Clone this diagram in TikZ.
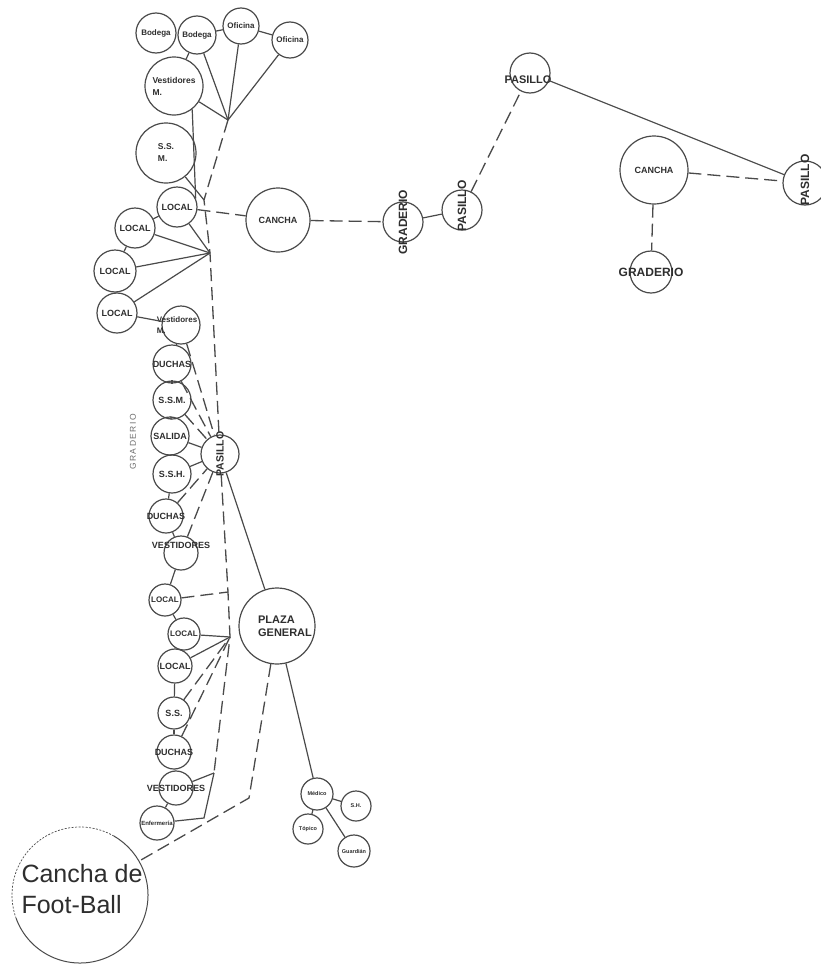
\documentclass[tikz,border=0pt]{standalone}
\usepackage{fontspec}
\setmainfont{Liberation Sans}
\definecolor{lc}{HTML}{4A4A4A}
\definecolor{tc}{HTML}{2E2E2E}
\newcommand\fz[1]{\fontsize{#1}{#1}\selectfont}
\newcommand\cnode[5]{%
  \node[nd, minimum size=#3pt] (#1) at (#2) {};
  \node[tx, #5] (#1-t) at (#1.center) {#4};}
\begin{document}
\begin{tikzpicture}[x=1pt,y=-1pt,
  nd/.style={circle, draw=lc, line width=1.2pt, inner sep=0pt},
  tx/.style={font=\bfseries\fz{9}, text=tc, align=left, inner sep=0pt},
  sl/.style={draw=lc, line width=1.2pt},
  dl/.style={draw=lc, line width=1.3pt, dash pattern=on 13pt off 6pt},
  fbl/.style={draw=lc, line width=1pt}]
\useasboundingbox (0,0) rectangle (821,964);
\fill[white] (0,0) rectangle (821,964);

% top row
\cnode{b1}{156,33}{40}{Bodega}{font=\bfseries\fz{8}}
\cnode{b2}{197,35}{38}{Bodega}{font=\bfseries\fz{8}}
\cnode{of1}{241,26}{36}{Oficina}{font=\bfseries\fz{8}}
\cnode{of2}{290,40}{36}{Oficina}{font=\bfseries\fz{8}}
\cnode{vm1}{174,86}{58}{Vestidores\\M.}{font=\bfseries\fontsize{8.5}{12}\selectfont}
\cnode{ssm1}{166,153}{60}{S.S.\\M.}{font=\bfseries\fontsize{8.5}{12}\selectfont}
\cnode{l1}{177,207}{40}{LOCAL}{}
\cnode{ca1}{278,220}{64}{CANCHA}{}
\cnode{l2}{135,228}{40}{LOCAL}{}
\cnode{l3}{115,271}{42}{LOCAL}{}
\cnode{l4}{117,313}{40}{LOCAL}{}
\cnode{vm2}{181,325}{38}{Vestidores\\M.}{font=\bfseries\fontsize{8}{11}\selectfont, xshift=-4pt}
\cnode{du1}{172,364}{38}{DUCHAS}{}
\cnode{ssm2}{172,400}{38}{S.S.M.}{}
\cnode{sal}{170,436}{38}{SALIDA}{}
\cnode{ssh}{172,474}{38}{S.S.H.}{}
\cnode{p1}{220,454}{38}{PASILLO}{rotate=90, font=\bfseries\fz{10.5}}
\cnode{du2}{166,516}{34}{DUCHAS}{}
\cnode{ve1}{181,553}{34}{VESTIDORES}{yshift=8pt}
\cnode{l5}{165,600}{32}{LOCAL}{font=\bfseries\fz{8}}
\cnode{l6}{184,634}{32}{LOCAL}{font=\bfseries\fz{8}}
\cnode{l7}{175,666}{34}{LOCAL}{}
\cnode{ss}{174,713}{32}{S.S.}{}
\cnode{du3}{174,752}{34}{DUCHAS}{}
\cnode{ve2}{176,788}{34}{VESTIDORES}{}
\cnode{sm}{157,823}{34}{Enfermería}{font=\bfseries\fz{6}}
\cnode{pl}{277,626}{76}{PLAZA\\GENERAL}{font=\bfseries\fontsize{11}{13}\selectfont, xshift=8pt}

% small cluster
\cnode{c1}{317,794}{32}{Médico}{font=\bfseries\fz{5.5}}
\cnode{c2}{356,806}{30}{S.H.}{font=\bfseries\fz{5.5}}
\cnode{c3}{308,829}{30}{Tópico}{font=\bfseries\fz{5.5}}
\cnode{c4}{354,851}{32}{Guardián}{font=\bfseries\fz{5.5}}

% right part
\cnode{g1}{403,222}{40}{GRADERIO}{rotate=90, font=\bfseries\fz{12}}
\cnode{p2}{462,210}{40}{PASILLO}{rotate=90, font=\bfseries\fz{12}, xshift=4pt}
\cnode{p3}{530,73}{40}{PASILLO}{font=\bfseries\fz{11}, yshift=-7pt, xshift=-2pt}
\cnode{ca2}{654,170}{68}{CANCHA}{}
\cnode{p4}{805,183}{44}{PASILLO}{rotate=90, font=\bfseries\fz{12}, xshift=3pt}
\cnode{g2}{651,272}{42}{GRADERIO}{font=\bfseries\fz{12}}

% Cancha de Foot-Ball
\node[circle, minimum size=136pt, inner sep=0pt] (fb) at (80,895) {};
\begin{scope}[shift={(80,895)}, x=1pt, y=1pt]
  \draw[fbl] (200:68) arc[start angle=200, end angle=420, radius=68];
  \draw[draw=lc, line width=0.7pt, dash pattern=on 2pt off 1.5pt] (60:68) arc[start angle=60, end angle=200, radius=68];
\end{scope}
\node[font=\fontsize{25}{31}\selectfont, text=tc, align=left, inner sep=0pt] (fbt) at (82,889) {Cancha de\\Foot-Ball};

% free label
\node[rotate=90, font=\fz{8.5}, text=lc!80, inner sep=0pt] (gtext) at (133,442) {G\,R\,A\,D\,E\,R\,I\,O};

% junctions
\coordinate (J1) at (228,120);
\coordinate (K1) at (204,200);
\coordinate (J2) at (210,253);
\coordinate (J3) at (228,592);
\coordinate (J4) at (230,637);
\coordinate (J5) at (214,773);
\coordinate (J6) at (204,818);
\coordinate (J7) at (249,798);

% top connectors
\draw[sl] (b2) -- (of1);
\draw[sl] (of1) -- (of2);
\draw[sl] (b2) -- (J1);
\draw[sl] (of1) -- (J1);
\draw[sl] (of2) -- (J1);
\draw[sl] (vm1) -- (J1);
\draw[sl] (b2) -- (vm1);
\draw[sl] (vm1.-52) -- (l1.25);
\draw[sl] (ssm1) -- (K1);
\draw[dl] (J1) -- (K1) -- (J2) -- (p1);
\draw[dl] (l1) -- (ca1);
\draw[sl] (l1) -- (J2);
\draw[sl] (l2) -- (J2);
\draw[sl] (l3) -- (J2);
\draw[sl] (l4) -- (J2);
\draw[sl] (l1) -- (l2);
\draw[sl] (l2) -- (l3);
\draw[sl] (l3) -- (l4);
\draw[sl] (l4) -- (vm2);

% middle chain
\draw[sl] (vm2) -- (du1);
\draw[sl] (du1) -- (ssm2);
\draw[sl] (ssm2) -- (sal);
\draw[sl] (sal) -- (ssh);
\draw[sl] (ssh) -- (du2);
\draw[sl] (du2) -- (ve1);
\draw[sl] (ve1) -- (l5);
\draw[sl] (l5) -- (l6);
\draw[sl] (l6) -- (l7);
\draw[sl] (l7) -- (ss);
\draw[sl] (ss) -- (du3);
\draw[sl] (du3) -- (ve2);
\draw[sl] (ve2) -- (sm);

\draw[dl] (vm2) -- (p1);
\draw[dl] (du1) -- (p1);
\draw[dl] (ssm2) -- (p1);
\draw[sl] (sal) -- (p1);
\draw[sl] (ssh) -- (p1);
\draw[dl] (du2) -- (p1);
\draw[dl] (ve1) -- (p1);

\draw[dl] (p1) -- (J3) -- (J4) -- (J5);
\draw[sl] (J5) -- (J6) -- (sm);
\draw[sl] (ve2) -- (J5);
\draw[dl] (l5) -- (J3);
\draw[sl] (l6) -- (J4);
\draw[sl] (l7) -- (J4);
\draw[dl] (ss) -- (J4);
\draw[dl] (du3) -- (J4);

% plaza
\draw[sl] (p1) -- (pl);
\draw[dl] (pl) -- (J7) -- (fb);
\draw[sl] (pl) -- (c1);
\draw[sl] (c1) -- (c2);
\draw[sl] (c1) -- (c3);
\draw[sl] (c1) -- (c4);

% right connectors
\draw[dl] (ca1) -- (g1);
\draw[sl] (g1) -- (p2);
\draw[dl] (p2) -- (p3);
\draw[sl] (p3) -- (p4);
\draw[dl] (ca2) -- (p4);
\draw[dl] (ca2) -- (g2);
\end{tikzpicture}
\end{document}
